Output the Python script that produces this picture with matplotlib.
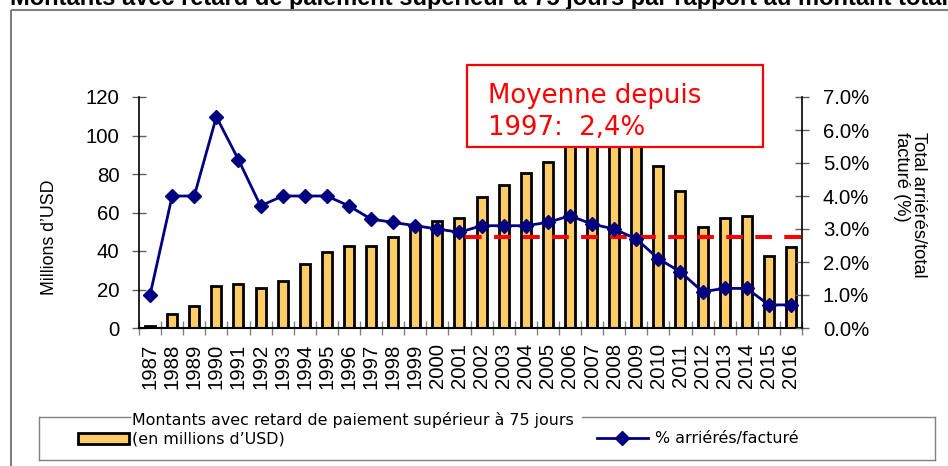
import matplotlib
matplotlib.use("Agg")
import matplotlib.pyplot as plt
from matplotlib.patches import Rectangle
from matplotlib.lines import Line2D

plt.rcParams['lines.scale_dashes'] = False

# ---------------- data ----------------
years = [str(y) for y in range(1987, 2017)]
montants = [1, 7.3, 11.4, 22, 23, 21, 24.2, 33, 39.3, 42.4, 42.6, 47.3, 52.6, 55.4, 57.3,
            67.9, 74.1, 80.7, 86.2, 97, 103, 108, 100, 84.2, 71, 52.5, 57.3, 58.2, 37.6, 42.2]
pct_arrieres = [1.0, 4.0, 4.0, 6.4, 5.1, 3.7, 4.0, 4.0, 4.0, 3.7, 3.3, 3.2, 3.1, 3.0, 2.9,
                3.1, 3.1, 3.1, 3.2, 3.4, 3.15, 3.0, 2.7, 2.1, 1.7, 1.1, 1.2, 1.2, 0.7, 0.7]
avg_level = 2.75
avg_start_index = 14.25
left_ticks = [0, 20, 40, 60, 80, 100, 120]
right_ticks = [0, 1, 2, 3, 4, 5, 6, 7]

W, H = 948, 466
fig = plt.figure(figsize=(W / 100, H / 100), dpi=100)

ARIAL = 'Liberation Sans'
TICK_FS = 14.7

ax = fig.add_axes([139 / W, 1 - 328 / H, (802 - 139) / W, (328 - 97) / H])
x = list(range(len(years)))
ax.bar(x, montants, width=0.45, color='#FFCC66', edgecolor='black', linewidth=2.0, zorder=2)
ax.set_xlim(-0.5, len(years) - 0.5)
ax.set_ylim(0, 120)
ax.set_yticks(left_ticks)
ax.set_xticks(x)
ax.set_xticklabels(years, rotation=90, fontfamily=ARIAL, fontsize=TICK_FS)
ax.set_xticks([i + 0.5 for i in range(-1, len(years))], minor=True)
ax.tick_params(axis='x', which='major', length=0, pad=11)
ax.tick_params(axis='x', which='minor', length=10, direction='inout', color='#808080', width=1)
ax.tick_params(axis='y', length=10, direction='inout', color='#606060', width=1, pad=9)
for lab in ax.get_yticklabels():
    lab.set_fontfamily(ARIAL)
    lab.set_fontsize(TICK_FS)
ax.spines['top'].set_visible(False)
ax.spines['right'].set_visible(False)
ax.spines['left'].set_linewidth(1.2)
ax.spines['bottom'].set_linewidth(1.5)
ax.patch.set_alpha(0)

ax2 = ax.twinx()
ax2.set_ylim(0, 7)
ax2.set_yticks(right_ticks)
ax2.set_yticklabels([f"{v:.1f}%" for v in right_ticks], fontfamily=ARIAL, fontsize=TICK_FS)
ax2.tick_params(axis='y', length=10, direction='inout', color='#606060', width=1, pad=10)
ax2.plot([avg_start_index, len(years) - 0.5], [avg_level, avg_level], color='#FF0000',
         linewidth=2.9, dashes=(12, 8.9), zorder=2, solid_capstyle='butt')
ax2.plot(x, pct_arrieres, color='#000080', linewidth=2.0, marker='D', markersize=7.2,
         markerfacecolor='#000080', markeredgecolor='#000080', zorder=3)
for s in ['top', 'left', 'bottom']:
    ax2.spines[s].set_visible(False)
ax2.spines['right'].set_linewidth(1.2)

# axis titles
fig.text(50 / W, 1 - 237 / H, "Millions d’USD", rotation=90, ha='center', va='center',
         fontfamily=ARIAL, fontsize=12.8)
fig.text(910 / W, 1 - 132 / H, "Total arriérés/total\nfacturé (%)", rotation=270,
         ha='center', va='top', multialignment='left', fontfamily=ARIAL, fontsize=13.2,
         linespacing=1.05)

# title (cut at top, as in the reference)
fig.text(10 / W, 1 - 4.5 / H,
         "Montants avec retard de paiement supérieur à 75 jours par rapport au montant total facturé",
         ha='left', va='baseline', fontfamily=ARIAL, fontweight='bold', fontsize=17)

# overlay for frame, annotation and legend (pixel coordinates)
ov = fig.add_axes([0, 0, 1, 1], zorder=10)
ov.set_xlim(0, W)
ov.set_ylim(H, 0)
ov.axis('off')
ov.patch.set_alpha(0)

# outer frame
ov.add_patch(Rectangle((11, 10), 1000, 500, fill=False, edgecolor='#7f7f7f', linewidth=1.5))

# annotation box
ov.add_patch(Rectangle((467, 65), 296, 82, facecolor='white', edgecolor='#FF0000', linewidth=1.6))
LEG_FONT = 'DejaVu Sans'
ov.text(488, 103, "Moyenne depuis", color='#FF0000', fontfamily=LEG_FONT, fontsize=18.7,
        ha='left', va='baseline')
ov.text(488, 135, "1997:  2,4%", color='#FF0000', fontfamily=LEG_FONT, fontsize=18.7,
        ha='left', va='baseline')

# legend box (fieldset style)
gc = '#808080'
LFS = 11.4
ov.add_line(Line2D([39, 39], [417, 460], color=gc, lw=1))
ov.add_line(Line2D([935, 935], [417, 460], color=gc, lw=1))
ov.add_line(Line2D([39, 935], [460, 460], color=gc, lw=1))
ov.add_line(Line2D([39, 130], [417, 417], color=gc, lw=1))
ov.add_line(Line2D([582, 935], [417, 417], color=gc, lw=1))
ov.text(132, 420, "Montants avec retard de paiement supérieur à 75 jours", fontfamily=LEG_FONT,
        fontsize=LFS, ha='left', va='center')
ov.text(132, 438.5, "(en millions d’USD)", fontfamily=LEG_FONT, fontsize=LFS, ha='left', va='center')
ov.add_patch(Rectangle((78, 433), 51, 11, facecolor='#FFCC66', edgecolor='black', linewidth=2))
ov.add_line(Line2D([597, 648], [438, 438], color='#000080', lw=2))
ov.add_line(Line2D([622.5], [438], color='#000080', marker='D', markersize=7.2))
ov.text(655, 438.5, "% arriérés/facturé", fontfamily=LEG_FONT, fontsize=LFS, ha='left', va='center')

fig.savefig("out.png", dpi=100)
